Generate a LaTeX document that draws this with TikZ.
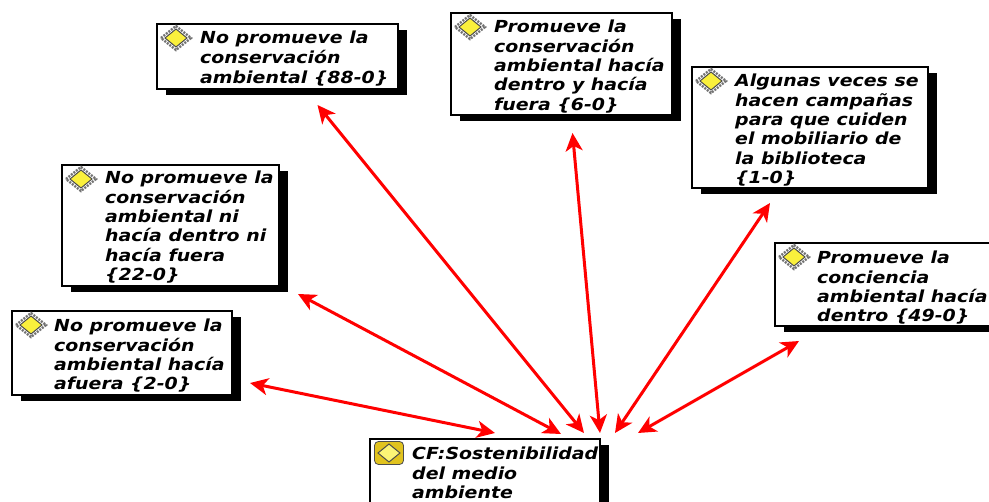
\documentclass[tikz,border=0pt]{standalone}
\usepackage{fontspec}
\setmainfont{DejaVu Sans}[FakeStretch=1.14]
\usetikzlibrary{arrows.meta, shadows, calc}
\definecolor{iconyellow}{RGB}{250,240,60}
\definecolor{icongold}{RGB}{225,195,30}
\tikzset{%
    boxsty/.style={
        draw,
        line width=1.2pt,
        fill=white,
        inner sep=0pt,
        outer sep=0pt,
        anchor=north west,
        drop shadow={shadow xshift=8.5pt,shadow yshift=-6pt,opacity=1,fill=black},
    },
    textsty/.style={
        align=left,
        inner sep=0pt,
        anchor=north west,
        font=\fontsize{16.6}{19.3}\selectfont\bfseries\itshape,
    },
    linksty/.style={
        draw=red,
        line width=3pt,
        {Stealth[length=18pt,width=17pt,inset=5pt]}-{Stealth[length=18pt,width=17pt,inset=5pt]},
    },
    pics/quoteicon/.style={
        code={
            \draw[black!55,line width=2.4pt,dash pattern=on 2pt off 1.2pt] (-15,0) -- (0,-12) -- (15,0) -- (0,12) -- cycle;
            \draw[black!70,fill=iconyellow,line width=1pt] (-11,0) -- (0,-9) -- (11,0) -- (0,9) -- cycle;
        }
    },
    pics/codeicon/.style={
        code={
            \draw[black!70,fill=icongold,rounded corners=4pt,line width=.8pt] (-14.5,-11.5) rectangle (14.5,11.5);
            \draw[black!70,fill=iconyellow!70!white,line width=1pt] (-11,0) -- (0,-9) -- (11,0) -- (0,9) -- cycle;
        }
    },
}
\begin{document}
\begin{tikzpicture}[x=1pt,y=-1pt]
\useasboundingbox (0,0) rectangle (989,502);

% quotation boxes
\node (boxa) [boxsty,minimum width=241pt,minimum height=65pt] at (157,24) {};
\node (boxb) [boxsty,minimum width=221pt,minimum height=102pt] at (451,13) {};
\node (boxc) [boxsty,minimum width=236pt,minimum height=121pt] at (692,67) {};
\node (boxd) [boxsty,minimum width=217pt,minimum height=121pt] at (62,165) {};
\node (boxe) [boxsty,minimum width=220pt,minimum height=84pt] at (12,311) {};
\node (boxf) [boxsty,minimum width=240pt,minimum height=83pt] at (775,243) {};
\node (cf) [boxsty,minimum width=230pt,minimum height=70pt] at (370,439) {};

% icons
\pic (icona) at ([shift={(19,14)}]boxa.north west) {quoteicon};
\pic (iconb) at ([shift={(19,14)}]boxb.north west) {quoteicon};
\pic (iconc) at ([shift={(19,14)}]boxc.north west) {quoteicon};
\pic (icond) at ([shift={(19,14)}]boxd.north west) {quoteicon};
\pic (icone) at ([shift={(19,14)}]boxe.north west) {quoteicon};
\pic (iconf) at ([shift={(19,14)}]boxf.north west) {quoteicon};
\pic (iconcf) at ([shift={(19,14)}]cf.north west) {codeicon};

% texts
\node (txta) [textsty,font=\fontsize{16.6}{20}\selectfont\bfseries\itshape] at ([shift={(43,7)}]boxa.north west) {No promueve la\\conservación\\ambiental \{88-0\}};
\node (txtb) [textsty] at ([shift={(43,7)}]boxb.north west) {Promueve la\\conservación\\ambiental hacía\\dentro y hacía\\fuera \{6-0\}};
\node (txtc) [textsty] at ([shift={(43,7)}]boxc.north west) {Algunas veces se\\hacen campañas\\para que cuiden\\el mobiliario de\\la biblioteca\\\{1-0\}};
\node (txtd) [textsty] at ([shift={(43,6)}]boxd.north west) {No promueve la\\conservación\\ambiental ni\\hacía dentro ni\\hacía fuera\\\{22-0\}};
\node (txte) [textsty] at ([shift={(42,8)}]boxe.north west) {No promueve la\\conservación\\ambiental hacía\\afuera \{2-0\}};
\node (txtf) [textsty] at ([shift={(42,8)}]boxf.north west) {Promueve la\\conciencia\\ambiental hacía\\dentro \{49-0\}};
\node (txtcf) [textsty] at ([shift={(42,8)}]cf.north west) {CF:Sostenibilidad\\del medio\\ambiente};

% links
\draw[linksty] ([shift={(18,-12)}]boxe.south east) -- ([shift={(10,-6)}]cf.north);
\draw[linksty] ([shift={(19,8)}]boxd.south east) -- ([shift={(76,-5)}]cf.north);
\draw[linksty] ([shift={(40,16)}]boxa.south) -- ([shift={(99,-6)}]cf.north);
\draw[linksty] ([shift={(11,18)}]boxb.south) -- ([shift={(115,-6)}]cf.north);
\draw[linksty] ([shift={(-40,15)}]boxc.south) -- ([shift={(130,-6)}]cf.north);
\draw[linksty] ([shift={(24,15)}]boxf.south west) -- ([shift={(153,-6)}]cf.north);

\end{tikzpicture}
\end{document}
